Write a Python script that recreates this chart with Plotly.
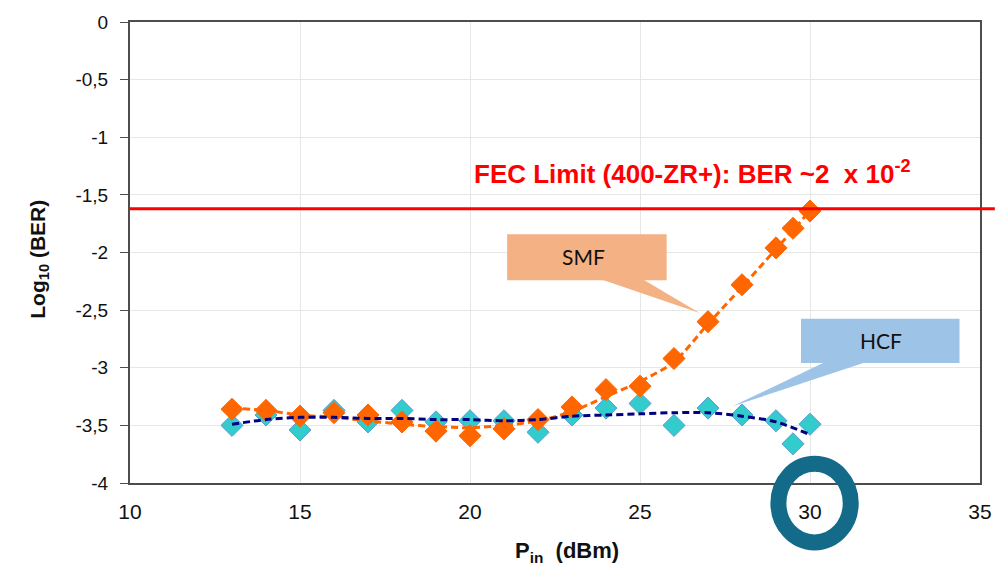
import plotly.graph_objects as go

# ---------------- data ----------------
smf_x = [13, 14, 15, 16, 17, 18, 19, 20, 21, 22, 23, 24, 25, 26, 27, 28, 29, 29.5, 30]
smf_y = [-3.36, -3.37, -3.42, -3.39, -3.41, -3.47, -3.55, -3.59, -3.53, -3.45,
         -3.34, -3.19, -3.16, -2.92, -2.60, -2.28, -1.96, -1.79, -1.64]
hcf_x = [13, 14, 15, 16, 17, 18, 19, 20, 21, 22, 23, 24, 25, 26, 27, 28, 29, 29.5, 30]
hcf_y = [-3.50, -3.41, -3.54, -3.37, -3.47, -3.37, -3.47, -3.46, -3.46, -3.56,
         -3.41, -3.35, -3.31, -3.50, -3.35, -3.41, -3.46, -3.66, -3.49]

fit_x = [13, 14, 15, 16, 17, 18, 19, 20, 21, 22, 23, 24, 25, 26, 27, 28, 29, 30]
smf_fit = [-3.35, -3.37, -3.41, -3.43, -3.46, -3.49, -3.51, -3.52, -3.50, -3.46,
           -3.38, -3.25, -3.12, -2.95, -2.62, -2.30, -1.97, -1.64]
hcf_fit = [-3.49, -3.45, -3.43, -3.43, -3.44, -3.44, -3.45, -3.45, -3.46, -3.45,
           -3.42, -3.41, -3.40, -3.39, -3.39, -3.42, -3.47, -3.58]

fec_limit = -1.62

x_ticks = [10, 15, 20, 25, 30, 35]
y_ticks = [0, -0.5, -1, -1.5, -2, -2.5, -3, -3.5, -4]
y_tick_text = ["0", "-0,5", "-1", "-1,5", "-2", "-2,5", "-3", "-3,5", "-4"]

# ---------------- layout geometry ----------------
W, H = 1004, 574
L, R, T, B = 130, 988, 14, 483


def px(xp):
    return (xp - L) / (R - L)


def py(yp):
    return (B - yp) / (B - T)


fig = go.Figure()

fig.add_trace(go.Scatter(
    x=hcf_x, y=hcf_y, mode="markers", name="HCF",
    marker=dict(symbol="diamond", size=17, color="#33CCCC",
                line=dict(color="#5B9BD5", width=1)),
))
fig.add_trace(go.Scatter(
    x=smf_x, y=smf_y, mode="markers", name="SMF",
    marker=dict(symbol="diamond", size=17, color="#FF6600",
                line=dict(color="#FF6600", width=1)),
))
fig.add_trace(go.Scatter(
    x=fit_x, y=smf_fit, mode="lines", name="SMF fit",
    line=dict(color="#FF6600", width=3, dash="7px,4px", shape="spline", smoothing=0.8),
))
fig.add_trace(go.Scatter(
    x=fit_x, y=hcf_fit, mode="lines", name="HCF fit",
    line=dict(color="#000080", width=3, dash="7px,4px", shape="spline", smoothing=0.8),
))

shapes = []
# FEC limit line
shapes.append(dict(type="line", xref="paper", yref="y", x0=0, x1=px(1003),
                   y0=fec_limit, y1=fec_limit, line=dict(color="#FF0000", width=3),
                   layer="above"))
# SMF callout
smf_box = (510.7, 230, 671.7, 276.7)
shapes.append(dict(type="rect", xref="paper", yref="paper",
                   x0=px(smf_box[0]), x1=px(smf_box[2]), y0=py(smf_box[3]), y1=py(smf_box[1]),
                   fillcolor="#F4B183", line=dict(width=0), layer="above"))
shapes.append(dict(type="path", xref="paper", yref="paper",
                   path=f"M {px(606)},{py(276)} L {px(648)},{py(276)} L {px(705)},{py(310)} Z",
                   fillcolor="#F4B183", line=dict(width=0), layer="above"))
# HCF callout
hcf_box = (807.3, 316, 967.3, 361)
shapes.append(dict(type="rect", xref="paper", yref="paper",
                   x0=px(hcf_box[0]), x1=px(hcf_box[2]), y0=py(hcf_box[3]), y1=py(hcf_box[1]),
                   fillcolor="#9DC3E6", line=dict(width=0), layer="above"))
shapes.append(dict(type="path", xref="paper", yref="paper",
                   path=f"M {px(831.7)},{py(360)} L {px(873.3)},{py(360)} L {px(738)},{py(405)} Z",
                   fillcolor="#9DC3E6", line=dict(width=0), layer="above"))
# highlight ring around 30
cx, cy, rx, ry = 821, 503.5, 36.5, 40
shapes.append(dict(type="circle", xref="paper", yref="paper",
                   x0=px(cx - rx), x1=px(cx + rx), y0=py(cy + ry), y1=py(cy - ry),
                   line=dict(color="#136B89", width=16), fillcolor="rgba(0,0,0,0)",
                   layer="above"))

annotations = [
    dict(xref="paper", yref="paper", x=px(698), y=py(167), xanchor="center", yanchor="middle",
         text="<b>FEC Limit (400-ZR+): BER ~2  x 10<sup>-2</sup></b>", showarrow=False,
         font=dict(family="Liberation Sans, Arial, sans-serif", size=26, color="#FF0000")),
    dict(xref="paper", yref="paper", x=px(588), y=py(253), xanchor="center", yanchor="middle",
         text="SMF", showarrow=False,
         font=dict(family="Lato, Open Sans, sans-serif", size=21, color="#111111")),
    dict(xref="paper", yref="paper", x=px(888), y=py(338), xanchor="center", yanchor="middle",
         text="HCF", showarrow=False,
         font=dict(family="Lato, Open Sans, sans-serif", size=21, color="#111111")),
    dict(xref="paper", yref="paper", x=px(38), y=py(255), xanchor="center", yanchor="middle",
         text="<b>Log<sub>10</sub> (BER)</b>", textangle=-90, showarrow=False,
         font=dict(family="Liberation Sans, Arial, sans-serif", size=21, color="#111111")),
    dict(xref="paper", yref="paper", x=px(571), y=py(553), xanchor="center", yanchor="middle",
         text="<b>P<sub>in</sub>  (dBm)</b>", showarrow=False,
         font=dict(family="Liberation Sans Narrow, Arial Narrow, Liberation Sans, sans-serif",
                   size=22, color="#111111")),
]

fig.update_layout(
    width=W, height=H,
    margin=dict(l=L, r=W - R, t=T, b=H - B),
    paper_bgcolor="white", plot_bgcolor="white",
    showlegend=False,
    shapes=shapes,
    annotations=annotations,
    xaxis=dict(range=[10, 35], tickvals=x_ticks, ticktext=[str(v) for v in x_ticks],
               showgrid=True, gridcolor="#E6E6E6", gridwidth=1,
               showline=True, linecolor="#4D4D4D", linewidth=2, mirror=True,
               ticks="", ticklabelstandoff=9, zeroline=False,
               tickfont=dict(family="Liberation Sans Narrow, Arial Narrow, Liberation Sans, sans-serif",
                             size=21, color="#111111")),
    yaxis=dict(range=[-4, 0], tickvals=y_ticks, ticktext=y_tick_text,
               showgrid=True, gridcolor="#E6E6E6", gridwidth=1,
               showline=True, linecolor="#4D4D4D", linewidth=2, mirror=True,
               ticks="outside", ticklen=8, tickcolor="#4D4D4D", tickwidth=1,
               ticklabelstandoff=8, zeroline=False,
               tickfont=dict(family="Liberation Sans, Arial, sans-serif", size=19, color="#111111")),
)

fig.write_html("out.html")
